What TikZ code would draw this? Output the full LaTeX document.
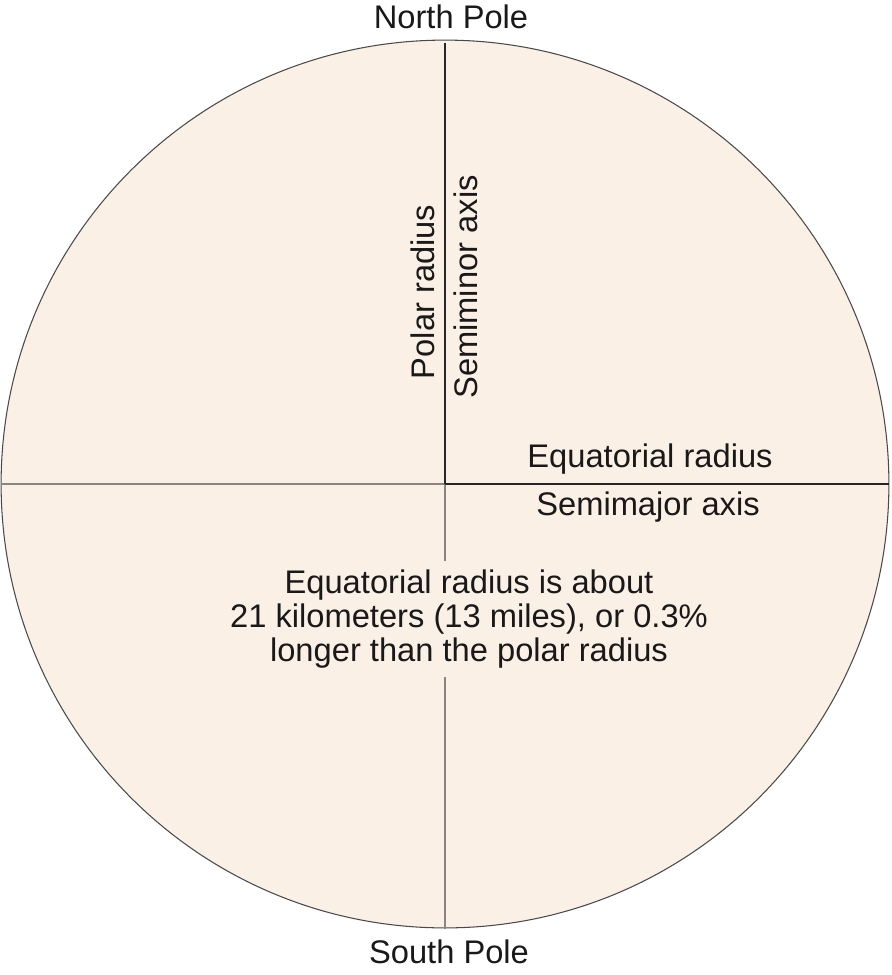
\documentclass[tikz,border=0pt]{standalone}
\usepackage{fontspec}
\setmainfont{Liberation Sans}
\definecolor{earth}{HTML}{FAF0E6}
\definecolor{rim}{HTML}{4A4A4A}
\definecolor{faint}{HTML}{8C8480}
\begin{document}
\begin{tikzpicture}[x=0.02cm,y=-0.02cm,
  lbl/.style={font=\fontsize{18.6}{19.4}\selectfont, text=black!90, inner sep=0pt},
  dark/.style={draw=black!85, line width=0.75pt},
  light/.style={draw=faint, line width=0.6pt}]
\useasboundingbox (0,0) rectangle (892,975);
\coordinate (c) at (445,484);
\draw[fill=earth, draw=rim, line width=0.6pt] (c) circle[radius=22.2*0.4cm];
\coordinate (n) at (445,43);
\coordinate (s) at (445,929);
\coordinate (w) at (1,484);
\coordinate (e) at (889,484);
\draw[light] (c) -- (s);
\draw[light] (c) -- (w);
\draw[dark] (c) -- (n);
\draw[dark] (c) -- (e);
\node[lbl] (np) at (451,17) {North Pole};
\node[lbl] (sp) at (449,952) {South Pole};
\node[lbl, rotate=90] (pr) at (423,292) {Polar radius};
\node[lbl, rotate=90] (sm) at (466,287) {Semiminor axis};
\node[lbl] (er) at (650,459) {Equatorial radius};
\node[lbl] (sj) at (648,507) {Semimajor axis};
\node[lbl, align=center, fill=earth, inner xsep=2pt, inner ysep=5pt] (note) at (469,619)
  {Equatorial radius is about\\21 kilometers (13 miles), or 0.3\%\\longer than the polar radius};
\end{tikzpicture}
\end{document}
